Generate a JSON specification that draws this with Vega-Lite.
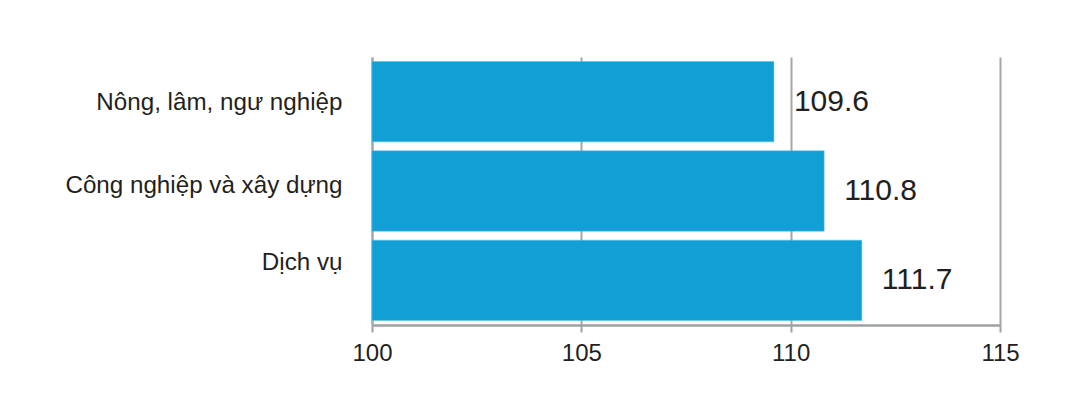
{
  "$schema": "https://vega.github.io/schema/vega-lite/v6.json",
  "width": 628,
  "height": 268,
  "autosize": {"type": "none"},
  "padding": {"left": 372, "top": 57, "right": 83, "bottom": 77},
  "background": "white",
  "config": {
    "view": {"stroke": null},
    "font": "Liberation Sans"
  },
  "data": {
    "values": [
      {"sector": "Nông, lâm, ngư nghiệp", "value": 109.6},
      {"sector": "Công nghiệp và xây dựng", "value": 110.8},
      {"sector": "Dịch vụ", "value": 111.7}
    ]
  },
  "encoding": {
    "y": {
      "field": "sector",
      "type": "nominal",
      "sort": null,
      "title": null,
      "scale": {"paddingInner": 0.1, "paddingOuter": 0.05},
      "axis": {
        "ticks": false,
        "labelPadding": 30,
        "labelLimit": 0,
        "labelFont": "Liberation Sans",
        "labelFontSize": 24.2,
        "labelColor": "#231f20",
        "domainColor": "#a6a6a6",
        "domainWidth": 2,
        "labelOffset": {"expr": "datum.value == 'Dịch vụ' ? -17 : (datum.value == 'Công nghiệp và xây dựng' ? -5 : 1)"}
      }
    }
  },
  "layer": [
    {
      "mark": {"type": "bar", "color": "#129fd6", "stroke": "#5bbfe6", "strokeWidth": 0.5},
      "encoding": {
        "x": {
          "field": "value",
          "type": "quantitative",
          "title": null,
          "scale": {"domain": [100, 115], "zero": false, "nice": false},
          "axis": {
            "values": [100, 105, 110, 115],
            "grid": true,
            "gridColor": "#a6a6a6",
            "gridWidth": 2,
            "domainColor": "#a0a0a4",
            "domainWidth": 2.5,
            "tickColor": "#a0a0a4",
            "tickWidth": 2,
            "tickSize": 7,
            "labelPadding": 9,
            "labelFont": "Liberation Sans",
            "labelFontSize": 24,
            "labelColor": "#231f20",
            "labelFlush": false
          }
        },
        "x2": {"datum": 100}
      }
    },
    {
      "mark": {"type": "text", "align": "left", "baseline": "middle", "dx": 20, "fontSize": 30, "font": "Liberation Sans", "color": "#231f20"},
      "encoding": {
        "x": {"field": "value", "type": "quantitative"},
        "text": {"field": "value", "type": "quantitative", "format": ".1f"}
      }
    }
  ]
}
